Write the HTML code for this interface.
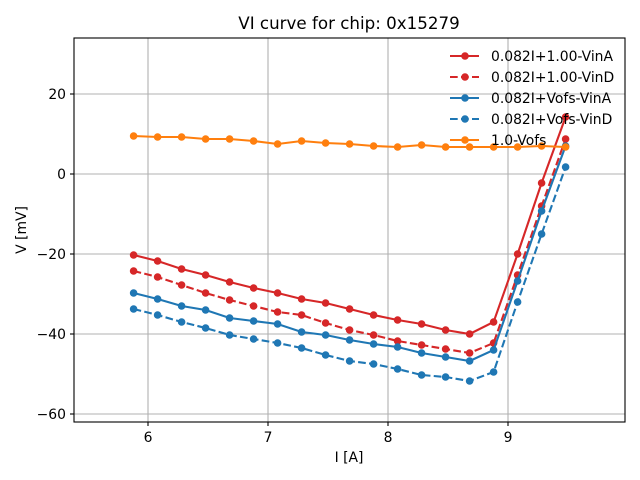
<!DOCTYPE html>
<html><head><meta charset="utf-8"><style>
body{margin:0;background:#fff}
svg{display:block;font-family:"DejaVu Sans","Liberation Sans",sans-serif}
</style></head><body>
<svg id="s" width="640" height="480" xmlns="http://www.w3.org/2000/svg">
<rect width="640" height="480" fill="#fff"/>
<g stroke="#b0b0b0" stroke-width="1.1">
<line x1="148" y1="38" x2="148" y2="422"/><line x1="268" y1="38" x2="268" y2="422"/>
<line x1="388" y1="38" x2="388" y2="422"/><line x1="508" y1="38" x2="508" y2="422"/>
<line x1="74" y1="94" x2="625" y2="94"/><line x1="74" y1="174" x2="625" y2="174"/>
<line x1="74" y1="254" x2="625" y2="254"/><line x1="74" y1="334" x2="625" y2="334"/>
<line x1="74" y1="414" x2="625" y2="414"/>
</g>
<g id="data"></g>
<rect x="74" y="38" width="551" height="384" fill="none" stroke="#000" stroke-width="1.1"/>
<g stroke="#000" stroke-width="1.1">
<line x1="148" y1="422" x2="148" y2="426"/><line x1="268" y1="422" x2="268" y2="426"/>
<line x1="388" y1="422" x2="388" y2="426"/><line x1="508" y1="422" x2="508" y2="426"/>
<line x1="70" y1="94" x2="74" y2="94"/><line x1="70" y1="174" x2="74" y2="174"/>
<line x1="70" y1="254" x2="74" y2="254"/><line x1="70" y1="334" x2="74" y2="334"/>
<line x1="70" y1="414" x2="74" y2="414"/>
</g>
<g font-size="13.9" fill="#000">
<g text-anchor="middle">
<text x="148" y="442">6</text><text x="268" y="442">7</text><text x="388" y="442">8</text><text x="508" y="442">9</text>
<text x="349" y="462">I [A]</text>
<text x="349" y="29" font-size="16.7">VI curve for chip: 0x15279</text>
</g>
<g text-anchor="end">
<text x="66" y="99">20</text><text x="66" y="179">0</text><text x="66" y="259">−20</text>
<text x="66" y="339">−40</text><text x="66" y="419">−60</text>
</g>
<text transform="translate(26,230) rotate(-90)" text-anchor="middle">V [mV]</text>
</g>
<g id="leg" font-size="13.9"></g>
</svg>
<script>
var xs=[];for(var i=0;i<19;i++)xs.push(133.6+24*i);
var S=[
["#d62728",0,[255,261,269,275,282,288,293,299,303,309,315,320,324,330,334,322,254,183,117]],
["#d62728",1,[271,277,285,293,300,306,312,315,323,330,335,341,345,349,353,343,275,206,139]],
["#1f77b4",0,[293,299,306,310,318,321,324,332,335,340,344,347,353,357,361,350,281,211,146]],
["#1f77b4",1,[309,315,322,328,335,339,343,348,355,361,364,369,375,377,381,372,302,234,167]],
["#ff7f0e",0,[136,137,137,139,139,141,144,141,143,144,146,147,145,147,147,147,147,146,147]]];
var names=["0.082I+1.00-VinA","0.082I+1.00-VinD","0.082I+Vofs-VinA","0.082I+Vofs-VinD","1.0-Vofs"];
var h="",l="";
S.forEach(function(s,k){
 var p=s[2].map(function(y,i){return xs[i]+","+y}).join(" ");
 var d=s[1]?' stroke-dasharray="7.7,3.3"':'';
 h+='<polyline points="'+p+'" fill="none" stroke="'+s[0]+'" stroke-width="2.1"'+d+'/>';
 s[2].forEach(function(y,i){h+='<circle cx="'+xs[i]+'" cy="'+y+'" r="3.8" fill="'+s[0]+'"/>';});
 var ly=56+21*k;
 l+='<line x1="450" y1="'+ly+'" x2="479" y2="'+ly+'" stroke="'+s[0]+'" stroke-width="2.1"'+d+'/><circle cx="465" cy="'+ly+'" r="3.8" fill="'+s[0]+'"/><text x="491" y="'+(ly+5)+'">'+names[k]+'</text>';
});
document.getElementById("data").innerHTML=h;
document.getElementById("leg").innerHTML=l;
</script>
</body></html>
